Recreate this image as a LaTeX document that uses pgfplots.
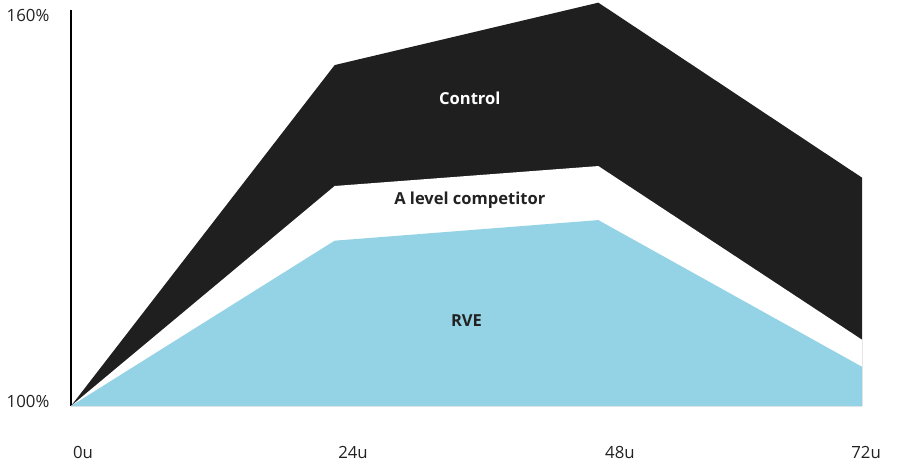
\documentclass[border=0pt]{standalone}
\usepackage{fontspec}
\setmainfont{Open Sans}
\usepackage{pgfplots}
\pgfplotsset{compat=1.18}
\definecolor{ctrl}{HTML}{1F1F1F}
\definecolor{rve}{HTML}{94D2E6}
\definecolor{txt}{HTML}{222222}
\begin{document}
\begin{tikzpicture}[x=1pt,y=1pt]
\begin{axis}[
  scale only axis,
  width=596.55pt, height=297pt,
  xmin=0, xmax=72.4, ymin=100, ymax=161.56,
  axis lines=left,
  x axis line style={draw=none},
  y axis line style={-, line width=1.5pt, color=black},
  major tick length=0pt,
  xtick={1.09,25.67,49.97,72.37},
  xticklabels={0u,24u,48u,72u},
  ytick={100,160},
  yticklabels={100\%,160\%},
  xticklabel style={anchor=center, yshift=-34.5pt, font=\fontsize{12.6}{14}\selectfont, text=txt},
  yticklabel style={anchor=center, xshift=-32.25pt, yshift=3.5pt, font=\fontsize{12.6}{14}\selectfont, text=txt},
  /pgf/number format/assume math mode=true,
  clip=false,
  axis on top=false,
]
\addplot[fill=ctrl, draw=none] coordinates {(0,100) (24,153.0) (48,162.7) (72,135.5)} \closedcycle;
\addplot[fill=white, draw=none] coordinates {(0,100) (24,134.2) (48,137.3) (72,110.3)} \closedcycle;
\addplot[fill=rve, draw=none] coordinates {(0,100) (24,125.7) (48,128.9) (72,106.1)} \closedcycle;
\node[text=white, font=\bfseries\fontsize{12.4}{14}\selectfont] at (axis cs:36.3,147.9) {Control};
\node[text=txt, font=\bfseries\fontsize{12.4}{14}\selectfont] at (axis cs:36.3,132.0) {A level competitor};
\node[text=txt, font=\bfseries\fontsize{12.4}{14}\selectfont] at (axis cs:36.0,113.2) {RVE};
\end{axis}
\path (current axis.south west) ++(-53.25pt,-42pt) rectangle ++(675pt,346.5pt);
\end{tikzpicture}
\end{document}
